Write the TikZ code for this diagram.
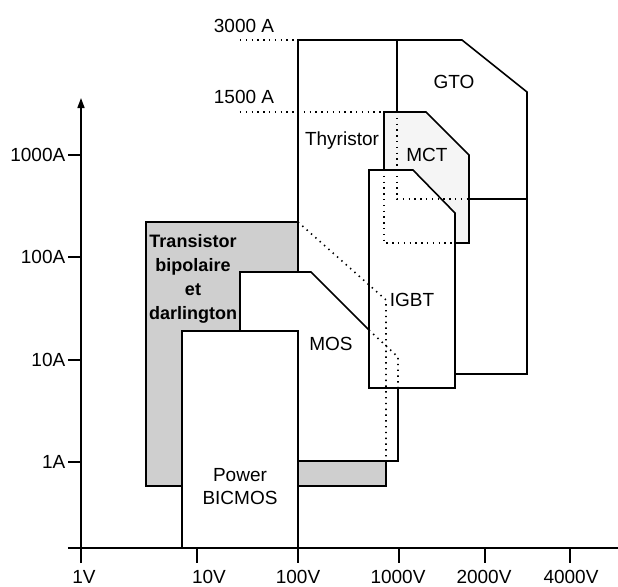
\documentclass[tikz,border=0pt]{standalone}
\usepackage{fontspec}
\setmainfont{Liberation Sans}
\usetikzlibrary{arrows.meta, positioning}

\begin{document}
\begin{tikzpicture}[
    x=0.5pt, y=-0.5pt,
    every node/.style={font=\fontsize{9.5}{11.5}\selectfont, inner sep=0pt, align=center},
    region/.style={draw=black, line width=0.8pt, line join=miter},
    border/.style={draw=black, line width=0.8pt, dash pattern=on 0.7pt off 2.2pt},
    axis/.style={draw=black, line width=0.8pt},
    shaded/.style={fill=black!19},
    tick/.style={draw=black, line width=0.7pt}
]
\useasboundingbox (0,0) rectangle (618,586);

% fills
\fill[shaded] (146,222) rectangle (298,486);
\fill[shaded] (298,461) rectangle (386,486);
\fill[black!4] (384,112) -- (426,112) -- (469,155) -- (469,243) -- (384,243) -- cycle;
\fill[white] (369,170) -- (413,170) -- (455,213) -- (455,388) -- (369,388) -- cycle;
\fill[white] (240,330) -- (240,272) -- (311,272) -- (398,357) -- (398,461) -- (298,461) -- (298,330) -- cycle;
\fill[white] (182,331) rectangle (298,548);

% axes
\draw[axis, -{Triangle[length=5pt, width=3.5pt]}] (81,563) -- (81,98);
\draw[axis] (68,548) -- (618,548);

\foreach \y/\lab in {155/1000A, 257/100A, 360/10A, 462/1A}
    \draw[tick] (81,\y) -- (68,\y) node[anchor=east, xshift=-1pt] {\lab};
\foreach \x/\lx/\lab in {81/84/1V, 197/209/10V, 298/298/100V, 399/398/1000V, 485/484/2000V, 570/571/4000V} {
    \draw[tick] (\x,548) -- (\x,563);
    \node at (\lx,577) {\lab};
}

% current limits
\node (i3000) at (244,26) {3000 A};
\node (i1500) at (244,97) {1500 A};
\draw[border] (240,40) -- (298,40);
\draw[border] (240,112) -- (384,112);

% transistor bipolaire
\draw[region] (182,486) -- (146,486) -- (146,222) -- (298,222);
\draw[region] (298,486) -- (386,486) -- (386,462);
\draw[border] (298,222) -- (386,300) -- (386,462);

% thyristor and GTO
\draw[region] (298,272) -- (298,40) -- (462,40) -- (527,92) -- (527,374) -- (456,374);
\draw[region] (397,40) -- (397,112);
\draw[border] (397,112) -- (397,199) -- (469,199);
\draw[region] (469,199) -- (527,199);

% MCT
\draw[region] (384,170) -- (384,112) -- (426,112) -- (469,155) -- (469,243) -- (455,243);
\draw[border] (384,170) -- (384,243) -- (455,243);

% IGBT
\draw[region] (369,170) -- (413,170) -- (455,213) -- (455,388) -- (369,388) -- cycle;

% MOS
\draw[region] (240,330) -- (240,272) -- (311,272) -- (369,330);
\draw[border] (369,330) -- (398,357) -- (398,388);
\draw[region] (398,388) -- (398,461) -- (298,461);

% power BICMOS
\draw[region] (182,548) -- (182,331) -- (298,331) -- (298,548);

% labels
\node (gto) at (454,82) {GTO};
\node (thyr) at (342,141) {Thyristor};
\node (mct) at (427,155) {MCT};
\node (igbt) at (412,300) {IGBT};
\node (mos) at (331,344) {MOS};
\node[font=\fontsize{9}{12}\selectfont\bfseries] (bip) at (193,279) {Transistor\\bipolaire\\et\\darlington};
\node (bicmos) at (240,487) {Power\\BICMOS};
\end{tikzpicture}
\end{document}
